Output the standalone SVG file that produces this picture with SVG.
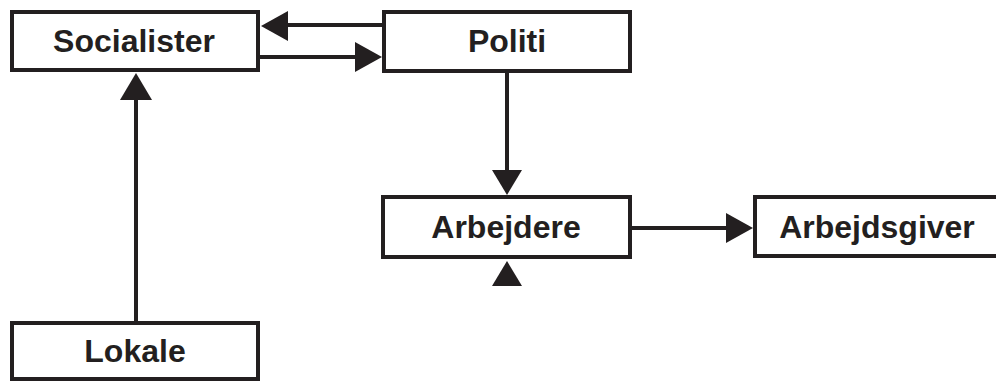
<svg xmlns="http://www.w3.org/2000/svg" width="996" height="381" viewBox="0 0 996 381">
<style>
.box{fill:#fff;stroke:#231f20;stroke-width:4}
.lbl{font-family:"Liberation Sans",Arial,sans-serif;font-weight:bold;font-size:32px;fill:#231f20;text-anchor:middle}
.ln{stroke:#231f20;stroke-width:4;fill:none}
.hd{fill:#231f20}
</style>
<rect width="996" height="381" fill="#fff"/>
<g id="connectors">
<line class="ln" x1="382" y1="25" x2="286" y2="25"/>
<polygon class="hd" points="261,26 288,11 288,41"/>
<line class="ln" x1="260" y1="57" x2="357" y2="57"/>
<polygon class="hd" points="382,57 355,42 355,72"/>
<line class="ln" x1="507" y1="73" x2="507" y2="172"/>
<polygon class="hd" points="507,195 492,170 522,170"/>
<line class="ln" x1="136" y1="321" x2="136" y2="98"/>
<polygon class="hd" points="136,73 120,100 152,100"/>
<line class="ln" x1="632" y1="228" x2="728" y2="228"/>
<polygon class="hd" points="753,228 726,213 726,243"/>
<polygon class="hd" points="507,261 492,286 522,286"/>
</g>
<g id="socialister">
<rect class="box" x="12" y="12" width="246" height="58"/>
<text class="lbl" x="134" y="52">Socialister</text>
</g>
<g id="politi">
<rect class="box" x="384" y="12" width="246" height="59"/>
<text class="lbl" x="507" y="52">Politi</text>
</g>
<g id="arbejdere">
<rect class="box" x="383" y="197" width="247" height="60"/>
<text class="lbl" x="506" y="238">Arbejdere</text>
</g>
<g id="arbejdsgiver">
<rect class="box" x="755" y="197" width="246" height="59"/>
<text class="lbl" x="877" y="238">Arbejdsgiver</text>
</g>
<g id="lokale">
<rect class="box" x="12" y="323" width="246" height="56"/>
<text class="lbl" x="135" y="362">Lokale</text>
</g>
</svg>
